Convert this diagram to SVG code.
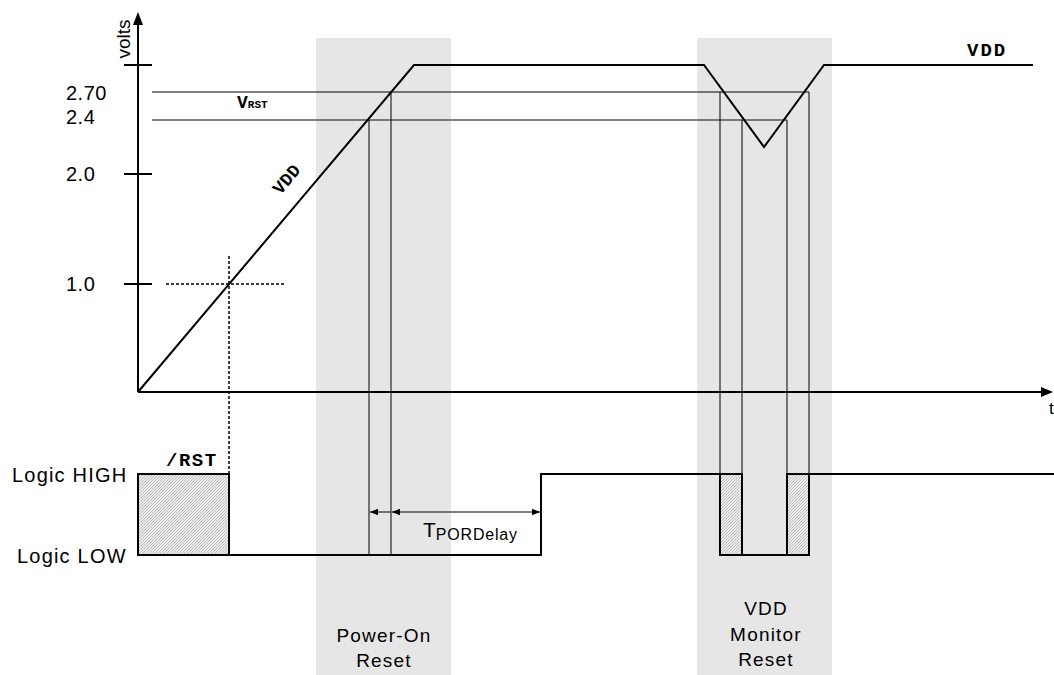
<svg xmlns="http://www.w3.org/2000/svg" width="1054" height="675" viewBox="0 0 1054 675">
<style>
.sans{font-family:"Liberation Sans",Arial,sans-serif;fill:#000}
.mono{font-family:"Liberation Mono","Courier New",monospace;font-weight:bold;fill:#000}
.thin{stroke:#000;stroke-width:1;fill:none}
.thick{stroke:#000;stroke-width:2;fill:none}
.dash{stroke:#000;stroke-width:1.5;stroke-dasharray:3 2;fill:none}
</style>
<defs>
<pattern id="hatch" width="3" height="3" patternUnits="userSpaceOnUse">
<rect width="3" height="3" fill="#ececec"/>
<path d="M0,3 L3,0 M-1,1 L1,-1 M2,4 L4,2" stroke="#a8a8a8" stroke-width="0.7"/>
</pattern>
<marker id="ah" viewBox="0 0 10 10" refX="10" refY="5" markerWidth="8" markerHeight="8" orient="auto-start-reverse" markerUnits="userSpaceOnUse">
<path d="M0,1 L10,5 L0,9 Z" fill="#000"/>
</marker>
</defs>
<rect width="1054" height="675" fill="#fff"/>
<g id="bands">
<rect x="316" y="38" width="135" height="637" fill="#e6e6e6"/>
<rect x="697" y="38" width="135" height="637" fill="#e6e6e6"/>
</g>
<g id="axes">
<line class="thick" x1="138" y1="392" x2="138" y2="22"/>
<path d="M138,12 L133,25 L143,25 Z" fill="#000"/>
<line class="thick" x1="138" y1="392" x2="1044" y2="392"/>
<path d="M1053,392 L1041,387 L1041,397 Z" fill="#000"/>
<line class="thick" x1="124" y1="65" x2="152" y2="65"/>
<line class="thick" x1="124" y1="174" x2="152" y2="174"/>
<line class="thick" x1="124" y1="284" x2="152" y2="284"/>
<text class="sans" x="130" y="39" font-size="19" text-anchor="middle" transform="rotate(-90 130 39)">volts</text>
<text class="sans" x="1049" y="414" font-size="17">t</text>
<text class="sans" x="66" y="100" font-size="20" letter-spacing="0.5">2.70</text>
<text class="sans" x="66" y="124" font-size="20" letter-spacing="0.5">2.4</text>
<text class="sans" x="66" y="181" font-size="20" letter-spacing="0.5">2.0</text>
<text class="sans" x="66" y="291" font-size="20" letter-spacing="0.5">1.0</text>
<text class="sans" x="12" y="482" font-size="20" letter-spacing="1.2">Logic HIGH</text>
<text class="sans" x="17" y="563" font-size="20" letter-spacing="1.2">Logic LOW</text>
</g>
<g id="thresholds">
<line x1="152" y1="92" x2="809" y2="92" stroke="#000" stroke-width="1"/>
<line x1="152" y1="120" x2="787" y2="120" stroke="#555" stroke-width="1.5"/>
<text class="mono" x="237" y="108" font-size="18">V<tspan font-size="11">RST</tspan></text>
</g>
<g id="guides">
<line class="dash" x1="166" y1="284" x2="286" y2="284"/>
<line class="dash" x1="229" y1="256" x2="229" y2="474"/>
<line class="thin" x1="369" y1="120" x2="369" y2="555"/>
<line class="thin" x1="391" y1="92" x2="391" y2="555"/>
<line class="thin" x1="720" y1="92" x2="720" y2="555"/>
<line class="thin" x1="742" y1="120" x2="742" y2="555"/>
<line class="thin" x1="787" y1="120" x2="787" y2="555"/>
<line class="thin" x1="809" y1="92" x2="809" y2="555"/>
</g>
<g id="vdd">
<polyline class="thick" points="138,392 414,65 704,65 764,147 824,65 1033,65"/>
<text class="mono" x="0" y="0" font-size="18" text-anchor="middle" transform="translate(291,183) rotate(-50)">VDD</text>
<text class="mono" x="967" y="56" font-size="19" letter-spacing="2">VDD</text>
</g>
<g id="rst">
<rect x="138" y="474" width="91" height="81" fill="url(#hatch)" stroke="#000" stroke-width="2"/>
<rect x="720" y="474" width="22" height="81" fill="url(#hatch)" stroke="#000" stroke-width="2"/>
<rect x="787" y="474" width="22" height="81" fill="url(#hatch)" stroke="#000" stroke-width="2"/>
<polyline class="thick" points="229,555 541,555 541,474 720,474"/>
<line class="thick" x1="742" y1="555" x2="787" y2="555"/>
<line class="thick" x1="809" y1="474" x2="1054" y2="474"/>
<text class="mono" x="166" y="466" font-size="19" letter-spacing="1.5">/RST</text>
</g>
<g id="connectors">
<line class="thin" x1="391" y1="512" x2="370" y2="512" marker-end="url(#ah)"/>
<line class="thin" x1="392" y1="512" x2="540" y2="512" marker-start="url(#ah)" marker-end="url(#ah)"/>
</g>
<g id="tpor">
<text class="sans" x="423" y="537" font-size="21">T<tspan font-size="16" dy="3" letter-spacing="0.8">PORDelay</tspan></text>
</g>
<g id="labels">
<text class="sans" x="384" y="642" font-size="19" letter-spacing="1.2" text-anchor="middle">Power-On</text>
<text class="sans" x="384" y="667" font-size="19" letter-spacing="1.2" text-anchor="middle">Reset</text>
<text class="sans" x="766" y="615" font-size="19" letter-spacing="1.2" text-anchor="middle">VDD</text>
<text class="sans" x="766" y="641" font-size="19" letter-spacing="1.2" text-anchor="middle">Monitor</text>
<text class="sans" x="766" y="666" font-size="19" letter-spacing="1.2" text-anchor="middle">Reset</text>
</g>
</svg>
